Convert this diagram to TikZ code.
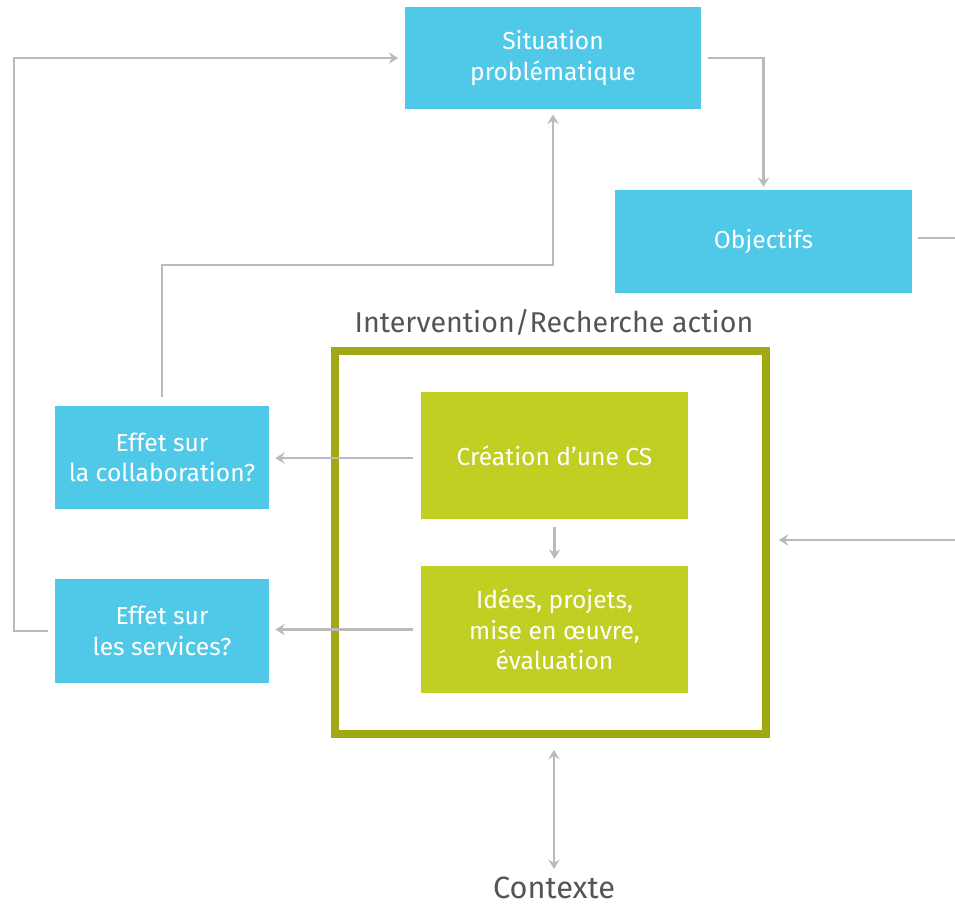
\documentclass[tikz,border=0pt]{standalone}
\usepackage{fontspec}
\setmainfont{Fira Sans}
\usepackage{tikz}
\usetikzlibrary{arrows.meta,positioning,calc}
\definecolor{myblue}{RGB}{80,200,232}
\definecolor{mygreen}{RGB}{192,207,34}
\definecolor{myolive}{RGB}{160,168,20}
\definecolor{mygray}{RGB}{185,185,190}
\definecolor{mytext}{RGB}{85,85,85}

\begin{document}
\begin{tikzpicture}[x=0.02cm, y=-0.02cm,
    bluebox/.style={fill=myblue, text=white, align=center, font=\fontsize{14}{17.5}\selectfont,
                    minimum width=5.94cm, minimum height=2.05cm, inner sep=2pt},
    greenbox/.style={fill=mygreen, text=white, align=center, font=\fontsize{14}{17.5}\selectfont,
                     minimum width=5.34cm, minimum height=2.54cm, inner sep=2pt},
    conn/.style={draw=mygray, line width=1.5pt, -{Stealth[length=1.9mm, width=2.3mm, inset=0.7mm]}},
    bothconn/.style={conn, {Stealth[length=1.9mm, width=2.3mm, inset=0.7mm]}-{Stealth[length=1.9mm, width=2.3mm, inset=0.7mm]}},
    plain/.style={draw=mygray, line width=1.5pt},
    lbl/.style={text=mytext, font=\fontsize{16.3}{19}\selectfont}]
  \useasboundingbox (0,0) rectangle (955,907);

  % upper boxes
  \node[bluebox] (sit) at (553,58) {Situation\\probl\'ematique};
  \node[bluebox] (obj) at (763.5,241.5) {Objectifs};

  % effects on the left
  \node[bluebox, minimum width=4.28cm] (collab) at (162,457.5) {Effet sur\\la collaboration?};
  \node[bluebox, minimum width=4.28cm, minimum height=2.08cm] (serv) at (162,631) {Effet sur\\les services?};

  % intervention frame
  \node[draw=myolive, line width=4.5pt, minimum width=8.62cm,
        minimum height=7.66cm] (frame) at (550.5,542.5) {};
  \node[lbl] (title) at (554,322) {Intervention/Recherche action};
  \node[greenbox] (crea) at (554.5,455.5) {Cr\'eation d’une CS};
  \node[greenbox] (idees) at (554.5,629.5) {Id\'ees, projets,\\mise en \oe uvre,\\\'evaluation};

  \node[lbl, font=\fontsize{17.5}{20}\selectfont, inner sep=1pt] (ctx) at (554,888) {Contexte};

  % helper points
  \coordinate (lft) at (14,58);
  \coordinate (mid) at (553,265);
  \coordinate (rin) at (955,540);
  \coordinate (rout) at (955,238);

  % connectors
  \draw[conn, shorten <=0.12cm, shorten >=0.06cm] (sit.east) -| (obj.north);
  \draw[conn, shorten <=0.14cm, shorten >=0.12cm] (serv.west) -- (serv.west -| lft) -- (lft) -- (sit.west);
  \draw[conn, shorten <=0.18cm, shorten >=0.1cm] (collab.north) |- (mid) -- (sit.south);
  \draw[conn, shorten <=0.16cm, shorten >=0.12cm] ([yshift=-0.05cm]crea.west) -- ([yshift=-0.05cm]collab.east |- crea.west);
  \draw[conn, shorten <=0.16cm, shorten >=0.12cm] (idees.west) -- (serv.east |- idees.west);
  \draw[conn, shorten <=0.16cm, shorten >=0.14cm] (crea.south) -- (idees.north);
  \draw[conn, shorten >=0.18cm] (rin) -- (frame.east |- rin);
  \draw[plain, shorten <=0.12cm] (obj.east |- rout) -- (rout);
  \draw[bothconn, shorten <=0.24cm, shorten >=0.12cm] (frame.south -| ctx.north) -- (ctx.north);
\end{tikzpicture}
\end{document}
